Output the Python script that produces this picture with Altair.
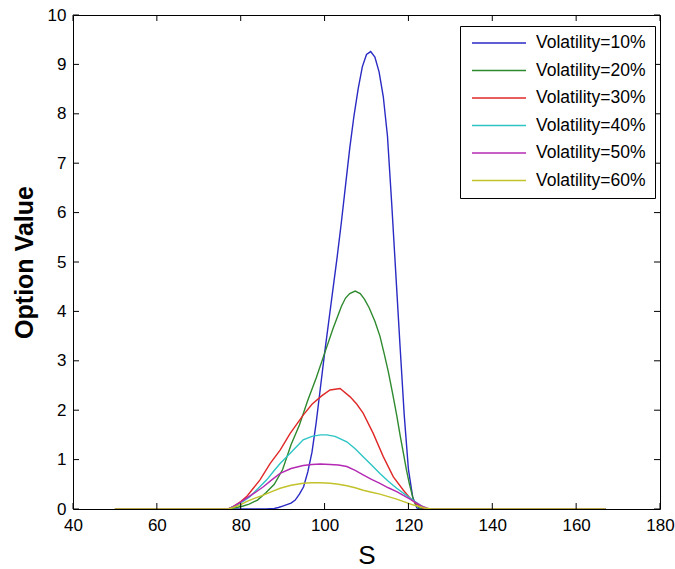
import altair as alt
import pandas as pd

# ---- data ----
labels = ["Volatility=10%", "Volatility=20%", "Volatility=30%",
          "Volatility=40%", "Volatility=50%", "Volatility=60%"]
colors = ["#2a2ac4", "#2e8a2e", "#e02828", "#2cc4c4", "#b42ab4", "#c2c22a"]

s_10 = [50, 86, 88, 89, 90, 91, 92, 93, 94, 95, 96, 97, 98, 99, 100, 101, 102, 103, 104, 105,
        106, 107, 108, 109, 110, 111, 112, 113, 114, 115, 116, 117, 118, 119, 120, 121, 122, 123, 167]
v_10 = [0, 0, 0.01, 0.03, 0.06, 0.09, 0.12, 0.18, 0.3, 0.45, 0.75, 1.15, 1.75, 2.45, 3.15, 3.8,
        4.45, 5.1, 5.8, 6.55, 7.3, 7.95, 8.5, 8.95, 9.2, 9.26, 9.15, 8.85, 8.35, 7.55, 6.2, 4.75,
        3.3, 1.9, 0.8, 0.25, 0.02, 0, 0]

s_20 = [50, 77, 79, 80.6, 82, 84, 86, 88, 90, 92, 94, 96, 98, 100, 102, 104, 105, 106, 107.3,
        108.5, 109.5, 110.6, 112, 113.2, 114.2, 115.2, 116.2, 117.2, 118, 118.8, 119.5, 120.2,
        121.2, 122, 123, 167]
v_20 = [0, 0, 0.03, 0.06, 0.1, 0.18, 0.33, 0.5, 0.8, 1.3, 1.7, 2.2, 2.65, 3.15, 3.65, 4.1, 4.27,
        4.36, 4.41, 4.36, 4.25, 4.08, 3.8, 3.5, 3.15, 2.78, 2.35, 1.9, 1.5, 1.13, 0.8, 0.52, 0.18,
        0.06, 0, 0]

s_30 = [50, 77, 78.2, 80, 81.4, 83, 84.6, 87, 89.4, 91.8, 94.9, 97, 99.3, 101.3, 103.7, 106.1,
        107.7, 109.2, 111.6, 114, 116.4, 118.8, 120.8, 122.8, 124, 167]
v_30 = [0, 0, 0.05, 0.15, 0.25, 0.42, 0.59, 0.92, 1.19, 1.53, 1.9, 2.12, 2.29, 2.41, 2.44, 2.27,
        2.12, 1.94, 1.53, 1.06, 0.65, 0.38, 0.18, 0.05, 0, 0]

s_40 = [50, 77, 79, 80.5, 82.2, 84.2, 86.2, 87.8, 89.4, 91.8, 94.9, 97, 99, 100.5, 102.5, 105.3,
        107.3, 109.2, 111.2, 113.2, 115.2, 117.2, 120.4, 122.8, 124.5, 167]
v_40 = [0, 0, 0.08, 0.15, 0.25, 0.42, 0.59, 0.76, 0.92, 1.13, 1.4, 1.47, 1.5, 1.5, 1.47, 1.36,
        1.22, 1.06, 0.89, 0.72, 0.56, 0.42, 0.22, 0.08, 0, 0]

s_50 = [50, 77, 78.2, 80, 81.4, 83.4, 85.4, 87.4, 89.4, 92, 94.9, 97, 99, 101.3, 103.3, 105.3,
        107.3, 109.2, 111.2, 113.2, 115.2, 117.2, 120.8, 123.2, 125, 167]
v_50 = [0, 0, 0.05, 0.14, 0.22, 0.33, 0.45, 0.59, 0.72, 0.82, 0.88, 0.9, 0.91, 0.9, 0.89, 0.86,
        0.78, 0.69, 0.6, 0.52, 0.43, 0.35, 0.18, 0.06, 0, 0]

s_60 = [50, 77, 78.2, 80, 81.4, 83.4, 85.4, 87.4, 89.4, 92, 94.9, 97, 99, 101.3, 103.3, 105.3,
        107.3, 109.2, 111.2, 113.2, 115.2, 117.2, 119.2, 121.2, 123.9, 125.5, 167]
v_60 = [0, 0, 0.03, 0.09, 0.15, 0.22, 0.28, 0.35, 0.42, 0.48, 0.52, 0.53, 0.53, 0.52, 0.5, 0.47,
        0.43, 0.38, 0.34, 0.3, 0.25, 0.2, 0.14, 0.08, 0.02, 0, 0]

x_ticks = [40, 60, 80, 100, 120, 140, 160, 180]
y_ticks = [0, 1, 2, 3, 4, 5, 6, 7, 8, 9, 10]

series = [(s_10, v_10), (s_20, v_20), (s_30, v_30), (s_40, v_40), (s_50, v_50), (s_60, v_60)]
rows = []
for lab, (ss, vv) in zip(labels, series):
    for i, (s, v) in enumerate(zip(ss, vv)):
        rows.append({"S": s, "V": v, "series": lab, "order": i})
df = pd.DataFrame(rows)
xt = pd.DataFrame({"S": x_ticks})
yt = pd.DataFrame({"V": y_ticks})

FONT = "Liberation Sans"
W, H = 587, 494

xscale = alt.Scale(domain=[40, 180], nice=False, zero=False)
yscale = alt.Scale(domain=[0, 10], nice=False)
xaxis = alt.Axis(values=x_ticks, title="S", grid=False, domain=False, ticks=False,
                 labelFlush=False, labelOverlap=False,
                 labelFont=FONT, labelFontSize=17, labelColor="black", labelPadding=8,
                 titleFont=FONT, titleFontSize=26, titleFontWeight="normal", titleColor="black",
                 titleBaseline="alphabetic", titleY=54)
yaxis = alt.Axis(values=y_ticks, title="Option Value", grid=False, domain=False, ticks=False,
                 labelFlush=False, labelOverlap=False,
                 labelFont=FONT, labelFontSize=17, labelColor="black", labelPadding=7,
                 titleFont=FONT, titleFontSize=25, titleFontWeight="bold", titleColor="black",
                 titleX=-36)

xenc = alt.X("S:Q", scale=xscale, axis=xaxis)
yenc = alt.Y("V:Q", scale=yscale, axis=yaxis)

lines = alt.Chart(df).mark_line(strokeWidth=1.4, clip=True).encode(
    x=xenc, y=yenc,
    order="order:Q",
    color=alt.Color("series:N",
                    scale=alt.Scale(domain=labels, range=colors),
                    legend=alt.Legend(orient="none", legendX=387, legendY=11, title=None,
                                      symbolType="stroke", symbolSize=2916,
                                      symbolStrokeWidth=1.5, symbolOffset=2, labelFont=FONT,
                                      labelFontSize=17.5, labelColor="black",
                                      strokeColor="black", fillColor="white",
                                      padding=9, clipHeight=16, rowPadding=9.5,
                                      labelOffset=9, labelLimit=300, cornerRadius=0)),
)

tick_bottom = alt.Chart(xt).mark_rule(color="black", strokeWidth=1).encode(
    x=xenc, y=alt.value(H), y2=alt.value(H - 6))
tick_top = alt.Chart(xt).mark_rule(color="black", strokeWidth=1).encode(
    x=xenc, y=alt.value(0), y2=alt.value(6))
tick_left = alt.Chart(yt).mark_rule(color="black", strokeWidth=1).encode(
    y=yenc, x=alt.value(0), x2=alt.value(6))
tick_right = alt.Chart(yt).mark_rule(color="black", strokeWidth=1).encode(
    y=yenc, x=alt.value(W), x2=alt.value(W - 6))

chart = alt.layer(lines, tick_bottom, tick_top, tick_left, tick_right).properties(
    width=W, height=H,
    autosize=alt.AutoSizeParams(type="none"),
    padding={"left": 73, "top": 15, "right": 15, "bottom": 60},
    background="white",
).configure_view(stroke="black", strokeWidth=1)

chart.save("out.html", embed_options={"renderer": "svg", "actions": False})
